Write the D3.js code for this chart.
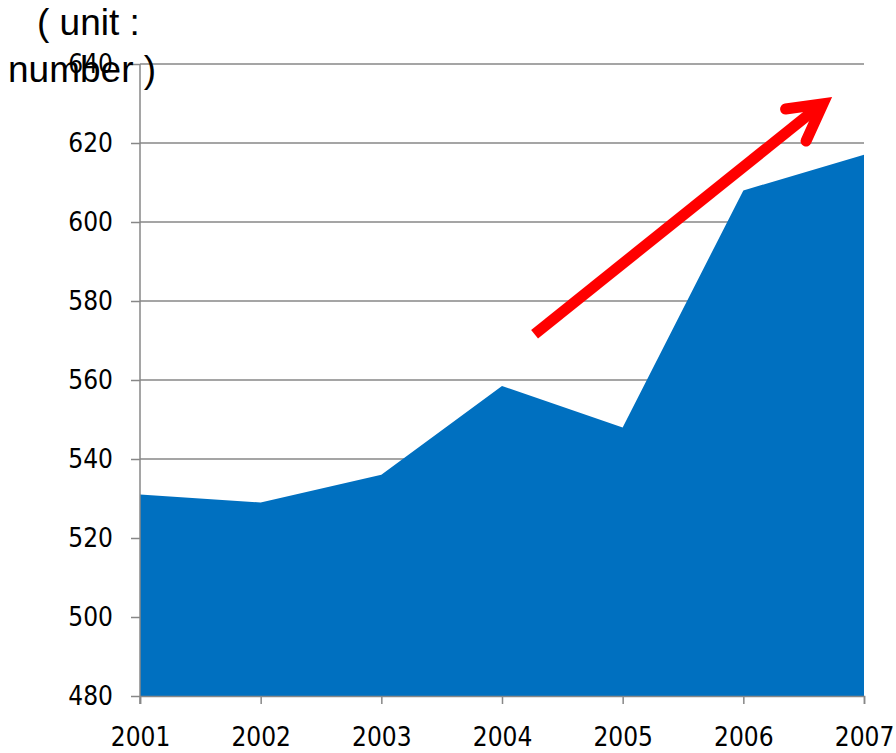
<!DOCTYPE html>
<html>
<head>
<meta charset="utf-8">
<script src="https://cdn.jsdelivr.net/npm/d3@7"></script>
<style>
  html, body { margin: 0; padding: 0; background: #fff; }
  svg { display: block; }
</style>
</head>
<body>
<svg id="chart"></svg>
<script>
// data
const years = [2001, 2002, 2003, 2004, 2005, 2006, 2007];
const values = [531, 529, 536, 558.5, 548, 608, 617];
const yTicks = [480, 500, 520, 540, 560, 580, 600, 620, 640];
const unitLines = ["( unit :", "number )"];

// trend arrow, in data units (year, value)
const arrowShaft = [[2004.27, 571.6], [2006.64, 629.6]];
const arrowHead = [[2006.35, 628.6], [2006.66, 629.9], [2006.52, 620.5]];

const W = 896, H = 753;
const svg = d3.select("#chart").attr("width", W).attr("height", H);

const x = d3.scaleLinear().domain([2001, 2007]).range([140, 864]);
const y = d3.scaleLinear().domain([480, 640]).range([696, 64]);

const grey = "#878787";
const labelFont = "'DejaVu Sans Condensed', 'DejaVu Sans', sans-serif";

// Gridlines
svg.append("g")
  .selectAll("line")
  .data(yTicks.filter(t => t > 480))
  .enter().append("line")
  .attr("x1", x(2001)).attr("x2", x(2007))
  .attr("y1", d => y(d)).attr("y2", d => y(d))
  .attr("stroke", grey)
  .attr("stroke-width", 1.5);

// Area
const area = d3.area()
  .x((d, i) => x(years[i]))
  .y0(y(480))
  .y1(d => y(d));

svg.append("path")
  .datum(values)
  .attr("d", area)
  .attr("fill", "#0070c0");

// Y axis
const yAxis = svg.append("g")
  .attr("transform", "translate(" + x(2001) + ",0)")
  .call(d3.axisLeft(y).tickValues(yTicks).tickSize(9).tickPadding(18).tickFormat(d3.format("d")));
yAxis.select(".domain").remove();
yAxis.append("line")
  .attr("x1", 0).attr("x2", 0)
  .attr("y1", y(640)).attr("y2", y(480) + 8)
  .attr("stroke", grey).attr("stroke-width", 1.5);
yAxis.selectAll(".tick line").attr("stroke", grey).attr("stroke-width", 1.5);
yAxis.selectAll(".tick text")
  .attr("fill", "#000")
  .style("font-family", labelFont)
  .style("font-size", "26px");

// X axis
const xAxis = svg.append("g")
  .attr("transform", "translate(0," + y(480) + ")")
  .call(d3.axisBottom(x).tickValues(years).tickSize(8).tickPadding(24).tickFormat(d3.format("d")));
xAxis.select(".domain").attr("stroke", grey).attr("stroke-width", 1.5);
xAxis.selectAll(".tick line").attr("stroke", grey).attr("stroke-width", 1.5);
xAxis.selectAll(".tick text")
  .attr("fill", "#000")
  .style("font-family", labelFont)
  .style("font-size", "26px");

// Trend arrow
const line = d3.line().x(d => x(d[0])).y(d => y(d[1]));
svg.append("path")
  .attr("d", line(arrowShaft))
  .attr("fill", "none")
  .attr("stroke", "#ff0000")
  .attr("stroke-width", 11);
svg.append("path")
  .attr("d", line(arrowHead))
  .attr("fill", "none")
  .attr("stroke", "#ff0000")
  .attr("stroke-width", 11)
  .attr("stroke-linecap", "round")
  .attr("stroke-linejoin", "miter")
  .attr("stroke-miterlimit", 10);

// Unit label
svg.append("g")
  .selectAll("text")
  .data(unitLines)
  .enter().append("text")
  .attr("x", (d, i) => i === 0 ? 37 : 8)
  .attr("y", (d, i) => 35 + i * 47)
  .attr("fill", "#000")
  .style("font-family", "'Liberation Sans', Arial, sans-serif")
  .style("font-size", "37px")
  .style("white-space", "pre")
  .text(d => d);
</script>
</body>
</html>
